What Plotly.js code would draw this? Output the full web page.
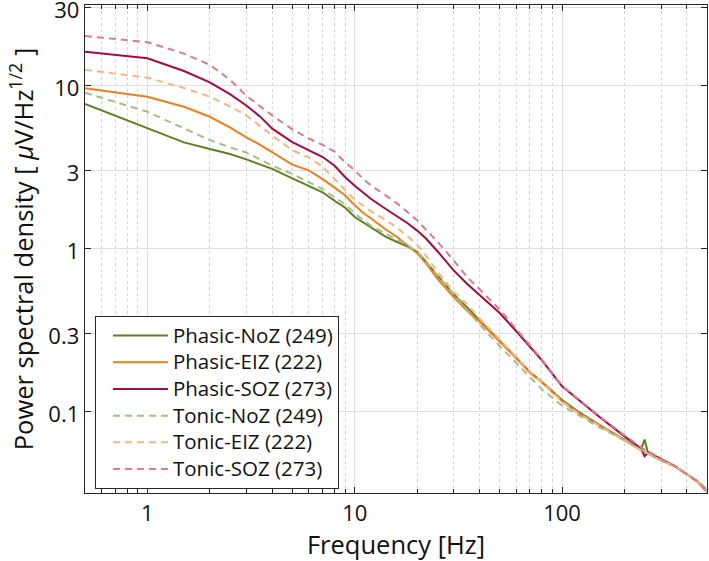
<!DOCTYPE html>
<html>
<head>
<meta charset="utf-8">
<script src="https://cdn.plot.ly/plotly-3.0.1.min.js"></script>
<style>html,body{margin:0;padding:0;background:#fff;}#chart{width:709px;height:561px;}</style>
</head>
<body>
<div id="chart"></div>
<script>
// Frequency grid [Hz]
const freq = [0.5, 1, 1.5, 2, 2.5, 3, 3.5, 4, 5, 6, 7, 8, 9, 10, 11, 12, 14, 16, 18, 20, 22, 25, 30, 35, 40, 50, 60, 70, 80, 100, 120, 150, 200, 240, 250, 260, 300, 350, 400, 450, 500];

// Power spectral density [uV/Hz^1/2]
const phasicNoZ = [7.65, 5.47, 4.45, 4.05, 3.78, 3.5, 3.25, 3.06, 2.68, 2.42, 2.2, 1.95, 1.77, 1.55, 1.43, 1.33, 1.18, 1.09, 1.02, 0.95, 0.83, 0.68, 0.52, 0.43, 0.36, 0.27, 0.213, 0.174, 0.151, 0.117, 0.099, 0.083, 0.067, 0.058, 0.067, 0.055, 0.05, 0.046, 0.041, 0.037, 0.032];
const phasicEIZ = [9.55, 8.47, 7.36, 6.39, 5.5, 4.78, 4.3, 3.88, 3.25, 3.0, 2.65, 2.35, 2.1, 1.83, 1.64, 1.52, 1.31, 1.17, 1.04, 0.93, 0.81, 0.65, 0.5, 0.41, 0.355, 0.268, 0.212, 0.172, 0.15, 0.115, 0.097, 0.082, 0.066, 0.058, 0.056, 0.055, 0.05, 0.046, 0.041, 0.037, 0.032];
const phasicSOZ = [16.0, 14.6, 12.2, 10.4, 8.8, 7.5, 6.4, 5.4, 4.47, 3.98, 3.62, 3.2, 2.72, 2.41, 2.18, 2.0, 1.75, 1.56, 1.42, 1.28, 1.15, 0.96, 0.73, 0.6, 0.515, 0.4, 0.31, 0.25, 0.205, 0.142, 0.117, 0.093, 0.07, 0.059, 0.053, 0.056, 0.051, 0.046, 0.041, 0.037, 0.032];
const tonicNoZ = [8.97, 6.86, 5.42, 4.6, 4.15, 3.85, 3.5, 3.2, 2.85, 2.55, 2.3, 2.05, 1.85, 1.64, 1.48, 1.37, 1.23, 1.13, 1.04, 0.95, 0.83, 0.68, 0.52, 0.41, 0.34, 0.251, 0.197, 0.162, 0.136, 0.108, 0.094, 0.08, 0.066, 0.058, 0.056, 0.055, 0.05, 0.046, 0.041, 0.037, 0.032];
const tonicEIZ = [12.4, 11.1, 9.6, 8.47, 7.4, 6.5, 5.6, 4.9, 3.98, 3.6, 3.15, 2.65, 2.25, 1.98, 1.82, 1.68, 1.5, 1.33, 1.18, 1.05, 0.9, 0.72, 0.54, 0.45, 0.37, 0.275, 0.215, 0.175, 0.15, 0.115, 0.097, 0.082, 0.066, 0.058, 0.056, 0.055, 0.05, 0.046, 0.041, 0.037, 0.032];
const tonicSOZ = [20.0, 18.3, 15.6, 13.3, 10.8, 8.6, 7.4, 6.5, 5.35, 4.7, 4.3, 3.9, 3.35, 3.0, 2.65, 2.42, 2.12, 1.88, 1.66, 1.48, 1.3, 1.1, 0.84, 0.66, 0.56, 0.42, 0.32, 0.255, 0.207, 0.143, 0.118, 0.094, 0.071, 0.06, 0.058, 0.057, 0.051, 0.046, 0.041, 0.037, 0.033];

const seriesNames = ['Phasic-NoZ (249)', 'Phasic-EIZ (222)', 'Phasic-SOZ (273)', 'Tonic-NoZ (249)', 'Tonic-EIZ (222)', 'Tonic-SOZ (273)'];
const seriesValues = [phasicNoZ, phasicEIZ, phasicSOZ, tonicNoZ, tonicEIZ, tonicSOZ];
const seriesColors = ['#5e7f22', '#e8801e', '#a30b40', '#a3bf85', '#f7b480', '#d87b8a'];
const seriesDash = ['solid', 'solid', 'solid', '7px,5px', '7px,5px', '7px,5px'];

const yTicks = [0.1, 0.3, 1, 3, 10, 30];
const xTicks = [1, 10, 100];
const xMinor = [0.6, 0.7, 0.8, 0.9, 2, 3, 4, 5, 6, 7, 8, 9, 20, 30, 40, 50, 60, 70, 80, 90, 200, 300, 400, 500];

const traces = seriesValues.map((v, i) => ({
  x: freq, y: v, type: 'scatter', mode: 'lines',
  name: '<span style="font-size:20.5px">' + seriesNames[i] + '</span>',
  line: {color: seriesColors[i], width: 2, dash: seriesDash[i]}
}));

const fontFam = '"Open Sans", Lato, sans-serif';
const layout = {
  width: 709, height: 561,
  margin: {l: 85, r: 2, t: 5, b: 68},
  paper_bgcolor: '#fff', plot_bgcolor: '#fff',
  font: {family: fontFam, color: '#111'},
  showlegend: true,
  legend: {
    x: 0.016, y: 0.008, xanchor: 'left', yanchor: 'bottom',
    bgcolor: '#fff', bordercolor: '#262626', borderwidth: 1,
    font: {family: fontFam, size: 18.25, color: '#111'},
    itemwidth: 55, indentation: 12,
    tracegroupgap: 0
  },
  xaxis: {
    type: 'log', range: [Math.log10(0.5), Math.log10(500)],
    tickmode: 'array', tickvals: xTicks, ticktext: xTicks.map(String),
    ticks: 'inside', ticklen: 6, tickwidth: 1, tickcolor: '#262626',
    showline: true, linecolor: '#262626', linewidth: 1.3, mirror: 'ticks',
    showgrid: true, gridcolor: '#dedede', gridwidth: 1,
    zeroline: false,
    tickfont: {size: 22, family: fontFam, color: '#111'},
    minor: {tickmode: 'array', tickvals: xMinor, ticks: 'inside', ticklen: 4, tickcolor: '#262626',
            showgrid: true, gridcolor: '#d4d4d4', griddash: 'dot', gridwidth: 1},
    title: {text: 'Frequency [Hz]', font: {size: 25.5, family: fontFam, color: '#111'}, standoff: 3}
  },
  yaxis: {
    type: 'log', range: [-1.502, 1.491],
    tickmode: 'array', tickvals: yTicks, ticktext: yTicks.map(String),
    ticks: 'inside', ticklen: 6, tickwidth: 1, tickcolor: '#262626',
    showline: true, linecolor: '#262626', linewidth: 1.3, mirror: 'ticks',
    showgrid: true, gridcolor: '#dedede', gridwidth: 1,
    zeroline: false, ticklabeloverflow: 'allow', ticklabelshift: 3,
    tickfont: {size: 22, family: fontFam, color: '#111'},
    title: {text: 'Power spectral density [ <i>μ</i>V/Hz<sup>1/2</sup> ]', font: {size: 25.5, family: fontFam, color: '#111'}, standoff: 7}
  }
};

Plotly.newPlot('chart', traces, layout, {staticPlot: true, displayModeBar: false});
</script>
</body>
</html>
